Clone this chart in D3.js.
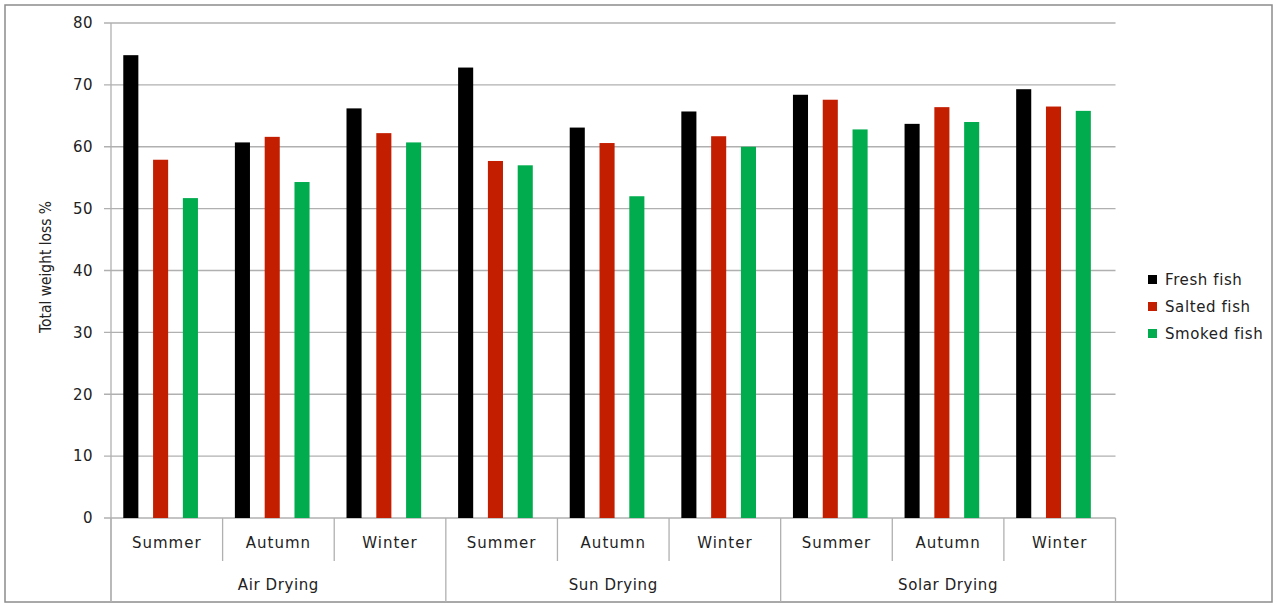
<!DOCTYPE html>
<html>
<head>
<meta charset="utf-8">
<script src="https://cdn.jsdelivr.net/npm/d3@7/dist/d3.min.js"></script>
<style>
  html, body { margin: 0; padding: 0; background: #fff; }
  svg { display: block; }
  text { font-family: "DejaVu Sans", sans-serif; fill: #222; }
</style>
</head>
<body>
<svg id="chart" width="1277" height="606"></svg>
<script>
// Drying methods, each split into three seasons
const methods = ["Air Drying", "Sun Drying", "Solar Drying"];
const seasons = ["Summer", "Autumn", "Winter"];
const series = ["Fresh fish", "Salted fish", "Smoked fish"];
const colors = ["#000000", "#C41E00", "#00AC4E"];

// Total weight loss % per (method, season), in the order above
const freshFish  = [74.8, 60.7, 66.2, 72.8, 63.1, 65.7, 68.4, 63.7, 69.3];
const saltedFish = [57.9, 61.6, 62.2, 57.7, 60.6, 61.7, 67.6, 66.4, 66.5];
const smokedFish = [51.7, 54.3, 60.7, 57.0, 52.0, 60.0, 62.8, 64.0, 65.8];

const yTicks = [0, 10, 20, 30, 40, 50, 60, 70, 80];

const categories = [];
methods.forEach(m => seasons.forEach(s => categories.push({ method: m, season: s, key: m + "|" + s })));
const valuesBySeries = [freshFish, saltedFish, smokedFish];

const svg = d3.select("#chart");

// outer frame
svg.append("rect")
  .attr("x", 5).attr("y", 5).attr("width", 1267).attr("height", 597)
  .attr("fill", "none").attr("stroke", "#8c8c8c").attr("stroke-width", 1.5);

const plotLeft = 111, plotRight = 1115.5, plotTop = 23, plotBottom = 518;

const x0 = d3.scaleBand().domain(categories.map(d => d.key)).range([plotLeft, plotRight]).padding(0);
const bw = x0.bandwidth();
const x1 = d3.scaleBand().domain(series).range([0.11 * bw, 0.779 * bw]).paddingInner(0.494).paddingOuter(0);
const y = d3.scaleLinear().domain([0, 80]).range([plotBottom, plotTop]);

// horizontal gridlines
svg.append("g").selectAll("line").data(yTicks).join("line")
  .attr("x1", plotLeft - 7).attr("x2", plotRight)
  .attr("y1", d => y(d)).attr("y2", d => y(d))
  .attr("stroke", "#b0b0b0").attr("stroke-width", 1.3);

// y axis
const yAxis = svg.append("g").attr("transform", `translate(${plotLeft},0)`)
  .call(d3.axisLeft(y).tickValues(yTicks).tickSize(0).tickPadding(18).tickFormat(d3.format("d")));
yAxis.select(".domain").remove();
yAxis.selectAll("text").attr("font-size", 15).attr("fill", "#222")
  .attr("letter-spacing", 0.5)
  .attr("font-family", "DejaVu Sans, sans-serif");

svg.append("line")
  .attr("x1", plotLeft).attr("x2", plotLeft).attr("y1", plotTop).attr("y2", 602)
  .attr("stroke", "#b0b0b0").attr("stroke-width", 1.3);

// y axis title
svg.append("text")
  .attr("transform", "translate(51,267) rotate(-90)")
  .attr("text-anchor", "middle")
  .attr("font-size", 16)
  .attr("fill", "#000")
  .attr("textLength", 132).attr("lengthAdjust", "spacingAndGlyphs")
  .text("Total weight loss %");

// bars
const barData = [];
categories.forEach((c, ci) => {
  series.forEach((s, si) => barData.push({ key: c.key, series: s, si, value: valuesBySeries[si][ci] }));
});
svg.append("g").selectAll("rect").data(barData).join("rect")
  .attr("x", d => x0(d.key) + x1(d.series))
  .attr("width", x1.bandwidth())
  .attr("y", d => y(d.value))
  .attr("height", d => y(0) - y(d.value))
  .attr("fill", d => colors[d.si]);

// category axis: season labels and dividers
const cat = svg.append("g");
cat.selectAll("text.season").data(categories).join("text")
  .attr("class", "season")
  .attr("x", d => x0(d.key) + bw / 2)
  .attr("y", 548)
  .attr("text-anchor", "middle")
  .attr("font-size", 15)
  .attr("letter-spacing", 1)
  .text(d => d.season);

const boundaries = d3.range(categories.length + 1).map(i => plotLeft + i * bw);
cat.selectAll("line.div").data(boundaries).join("line")
  .attr("class", "div")
  .attr("x1", d => d).attr("x2", d => d)
  .attr("y1", plotBottom)
  .attr("y2", (d, i) => (i % seasons.length === 0) ? 602 : 561)
  .attr("stroke", "#b0b0b0").attr("stroke-width", 1.3);

cat.selectAll("text.method").data(methods).join("text")
  .attr("class", "method")
  .attr("x", (d, i) => plotLeft + (i * 3 + 1.5) * bw)
  .attr("y", 590)
  .attr("text-anchor", "middle")
  .attr("font-size", 15)
  .attr("letter-spacing", 0.6)
  .text(d => d);

// legend
const legend = svg.append("g").attr("transform", "translate(1148,280)");
const item = legend.selectAll("g").data(series).join("g")
  .attr("transform", (d, i) => `translate(0,${i * 27})`);
item.append("rect").attr("x", 0).attr("y", -5).attr("width", 9).attr("height", 9)
  .attr("fill", (d, i) => colors[i]);
item.append("text").attr("x", 17).attr("y", 5).attr("font-size", 15)
  .attr("letter-spacing", 0.6).text(d => d);
</script>
</body>
</html>
